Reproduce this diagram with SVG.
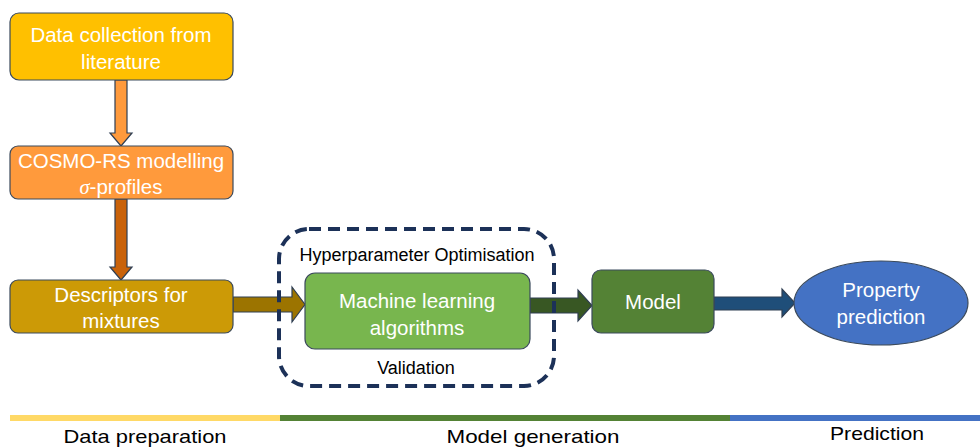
<svg xmlns="http://www.w3.org/2000/svg" width="980" height="447" viewBox="0 0 980 447">
<style>
.box{stroke:#3B4A5C;stroke-width:1.2}
.wt{font-family:"Liberation Sans",Arial,sans-serif;font-size:20.5px;fill:#fff;text-anchor:middle}
.bt{font-family:"Liberation Sans",Arial,sans-serif;font-size:18px;fill:#000;text-anchor:middle}
.lt{font-family:"Liberation Sans",Arial,sans-serif;font-size:19px;fill:#000;text-anchor:middle}
.arr{stroke:#2F3E52;stroke-width:1.2}
</style>
<rect width="980" height="447" fill="#fff"/>
<g id="connectors">
<path class="arr" fill="#FF9A3C" d="M115,80 H127 V133 H132 L121,146 L110,133 H115 Z"/>
<path class="arr" fill="#C9620A" d="M115,199 H127 V267 H132 L121,280 L110,267 H115 Z"/>
<path class="arr" fill="#9C7400" d="M233,297 H292 V287 L305,304.5 L292,322 V312 H233 Z"/>
<path class="arr" fill="#385723" d="M530,298 H578 V290 L592,305.5 L578,321 V313 H530 Z"/>
<path class="arr" fill="#1F4E79" d="M714,297 H782 V289 L795,303 L782,317 V310 H714 Z"/>
</g>
<g id="group-box">
<rect x="279" y="229" width="275" height="157" rx="30" fill="none" stroke="#1C3158" stroke-width="4" stroke-dasharray="12 7"/>
<text class="bt" x="417" y="261">Hyperparameter Optimisation</text>
<text class="bt" x="416" y="374">Validation</text>
</g>
<g id="data-collection">
<rect class="box" x="10" y="13" width="223" height="67" rx="9" fill="#FFC000"/>
<text class="wt" x="121" y="42">Data collection from</text>
<text class="wt" x="121" y="69">literature</text>
</g>
<g id="cosmo-rs">
<rect class="box" x="10" y="146" width="223" height="53" rx="8" fill="#FF9A3C"/>
<text class="wt" x="121" y="168">COSMO-RS modelling</text>
<text class="wt" x="121" y="194"><tspan font-family="Liberation Serif,serif" font-style="italic">σ</tspan>-profiles</text>
</g>
<g id="descriptors">
<rect class="box" x="10" y="280" width="223" height="53" rx="8" fill="#CC9A06"/>
<text class="wt" x="121" y="302">Descriptors for</text>
<text class="wt" x="121" y="328">mixtures</text>
</g>
<g id="ml">
<rect class="box" x="305" y="273" width="225" height="76" rx="10" fill="#78B64E"/>
<text class="wt" x="417" y="308">Machine learning</text>
<text class="wt" x="417" y="335">algorithms</text>
</g>
<g id="model">
<rect class="box" x="592" y="270" width="122" height="63" rx="9" fill="#548235"/>
<text class="wt" x="653" y="309">Model</text>
</g>
<g id="prediction">
<ellipse class="box" cx="881" cy="303" rx="87" ry="42" fill="#4472C4"/>
<text class="wt" x="881" y="297">Property</text>
<text class="wt" x="881" y="324">prediction</text>
</g>
<g id="phases">
<rect x="10" y="415" width="270" height="6" fill="#FFD966"/>
<rect x="280" y="415" width="450" height="6" fill="#548235"/>
<rect x="730" y="415" width="250" height="6" fill="#4472C4"/>
<text class="lt" x="145" y="443" textLength="163" lengthAdjust="spacingAndGlyphs">Data preparation</text>
<text class="lt" x="533" y="443" textLength="173" lengthAdjust="spacingAndGlyphs">Model generation</text>
<text class="lt" x="877" y="440" textLength="94" lengthAdjust="spacingAndGlyphs">Prediction</text>
</g>
</svg>
